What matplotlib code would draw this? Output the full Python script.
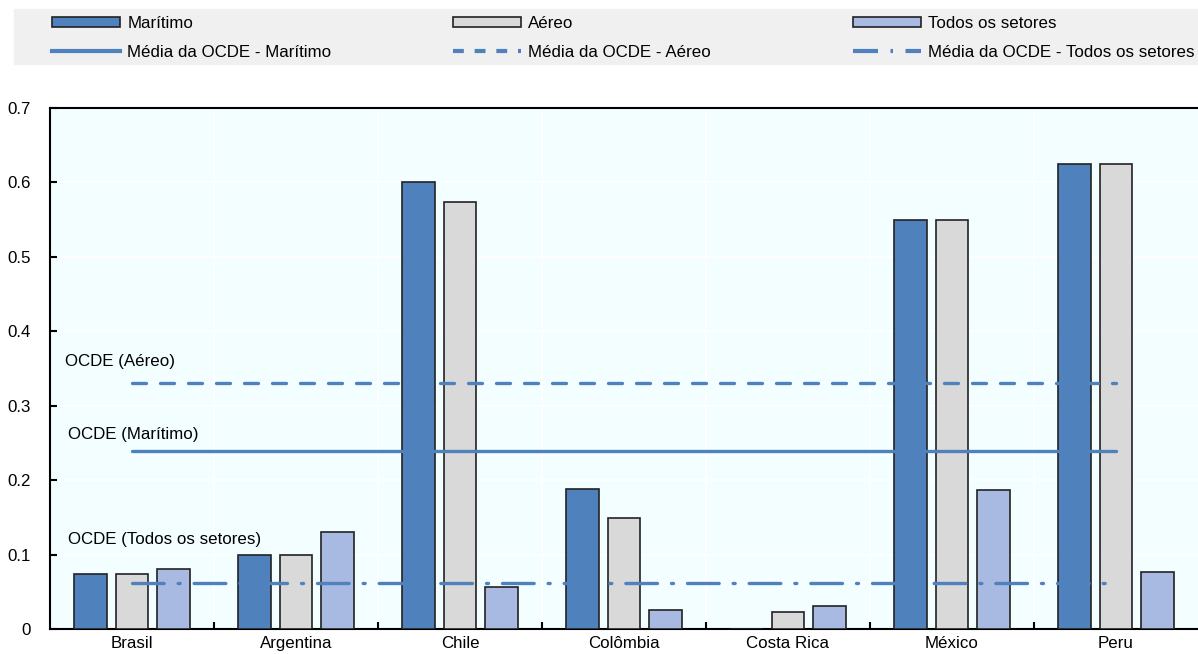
import matplotlib
matplotlib.use("Agg")
import matplotlib.pyplot as plt
from matplotlib.patches import Rectangle
from matplotlib.lines import Line2D
import numpy as np

countries = ["Brasil", "Argentina", "Chile", "Colômbia", "Costa Rica", "México", "Peru"]
maritimo = [0.074, 0.100, 0.600, 0.188, 0.0, 0.550, 0.625]
aereo = [0.074, 0.100, 0.574, 0.149, 0.023, 0.550, 0.625]
todos = [0.081, 0.130, 0.056, 0.026, 0.031, 0.187, 0.077]

ocde_maritimo = 0.239
ocde_aereo = 0.331
ocde_todos = 0.062

BLUE = "#4F81BD"
GRAY = "#D9D9D9"
LAV = "#A8B9E2"
LINE = "#4F81BD"
BG = "#F2FEFF"
FS = 12.2

plt.rcParams["font.family"] = ["Liberation Sans", "DejaVu Sans"]
plt.rcParams["font.size"] = FS

fig = plt.figure(figsize=(11.98, 6.54), dpi=100)
ax = fig.add_axes([50 / 1198, 1 - 629 / 654, 1 - 50 / 1198, (629 - 108) / 654])
ax.set_facecolor(BG)

x = np.arange(len(countries))
w = 0.2
step = 0.252
ax.bar(x - step, maritimo, w, color=BLUE, edgecolor="#222222", lw=1.2, zorder=3)
ax.bar(x, aereo, w, color=GRAY, edgecolor="#222222", lw=1.2, zorder=3)
ax.bar(x + step, todos, w, color=LAV, edgecolor="#222222", lw=1.2, zorder=3)

lw = 2.4
xl = [x[0], x[-1]]
ax.plot(xl, [ocde_maritimo] * 2, color=LINE, lw=lw, zorder=4, solid_capstyle="round")
ax.plot(xl, [ocde_aereo] * 2, color=LINE, lw=lw, zorder=4, dashes=(4.2, 4.2),
        dash_capstyle="round")
ax.plot(xl, [ocde_todos] * 2, color=LINE, lw=lw, zorder=4, dashes=(9.5, 4.2, 0.6, 4.2),
        dash_capstyle="round")

ax.text(-0.41, 0.359, "OCDE (Aéreo)", ha="left", va="center")
ax.text(-0.39, 0.261, "OCDE (Marítimo)", ha="left", va="center")
ax.text(-0.39, 0.12, "OCDE (Todos os setores)", ha="left", va="center")

ax.set_xlim(-0.5, len(countries) - 0.5)
ax.set_ylim(0, 0.7)
ax.set_yticks(np.arange(0, 0.71, 0.1))
ax.set_yticklabels(["0", "0.1", "0.2", "0.3", "0.4", "0.5", "0.6", "0.7"])
ax.set_xticks(x)
ax.set_xticklabels(countries)
ax.set_xticks(np.arange(0.5, len(countries) - 0.5, 1), minor=True)
ax.tick_params(axis="x", which="major", length=0, pad=5)
ax.tick_params(axis="x", which="minor", direction="in", length=5, width=1.5)
ax.tick_params(axis="y", direction="in", length=5, width=1.5, pad=14)
ax.grid(True, axis="y", color="white", lw=1.2, zorder=0)
ax.grid(True, axis="x", which="minor", color="white", lw=1.2, zorder=0)
ax.set_axisbelow(True)
for s in ["left", "bottom", "top"]:
    ax.spines[s].set_linewidth(1.5)
ax.spines["right"].set_visible(False)

# legend band
fig.patches.append(Rectangle((14 / 1198, 1 - 64 / 654), 1 - 14 / 1198, 55 / 654,
                             transform=fig.transFigure, color="#F0F0F0", zorder=0))

cols = [
    ("Marítimo", BLUE, "Média da OCDE - Marítimo", {}),
    ("Aéreo", GRAY, "Média da OCDE - Aéreo", {"dashes": (2.6, 2.6)}),
    ("Todos os setores", LAV, "Média da OCDE - Todos os setores", {"dashes": (6, 3, 0.6, 3)}),
]
xs = [52, 453, 853]
for (lab, col, llab, kw), x0 in zip(cols, xs):
    h1 = Rectangle((0, 0), 1, 1, facecolor=col, edgecolor="#222222", lw=1.2)
    h2 = Line2D([], [], color=LINE, lw=3, **kw)
    fig.legend([h1, h2], [lab, llab], loc="upper left",
               bbox_to_anchor=(x0 / 1198, 1 - 16 / 654), frameon=False,
               borderpad=0, borderaxespad=0, handlelength=4.0, handletextpad=0.45,
               labelspacing=0.8, handleheight=0.6, fontsize=FS)

fig.savefig("out.png", dpi=100)
